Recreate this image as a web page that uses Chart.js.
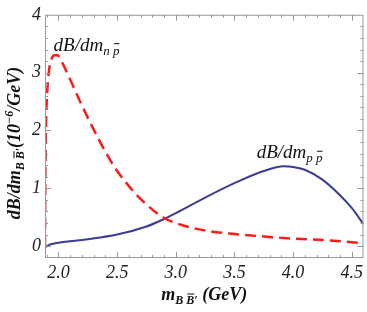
<!DOCTYPE html>
<html>
<head>
<meta charset="utf-8">
<script src="https://cdn.jsdelivr.net/npm/chart.js@4.4.1/dist/chart.umd.min.js"></script>
<style>
html,body{margin:0;padding:0;background:#fff;}
#wrap{width:367px;height:312px;position:relative;}
</style>
</head>
<body>
<div id="wrap"><canvas id="c" width="367" height="312"></canvas></div>
<script>
// ---- data ----
const npX = [1.885, 1.887, 1.890, 1.895, 1.905, 1.92, 1.94, 1.965, 1.99, 2.03, 2.10, 2.18, 2.26, 2.34, 2.42, 2.50, 2.58, 2.66, 2.75, 2.89, 3.00, 3.20, 3.50, 3.80, 4.00, 4.30, 4.60];
const npY = [0.00, 0.80, 1.60, 2.20, 2.70, 3.05, 3.23, 3.30, 3.30, 3.18, 2.88, 2.52, 2.18, 1.86, 1.56, 1.30, 1.09, 0.90, 0.72, 0.50, 0.40, 0.29, 0.21, 0.16, 0.13, 0.10, 0.05];
const ppX = [1.885, 1.93, 2.00, 2.25, 2.50, 2.75, 2.89, 3.00, 3.25, 3.50, 3.75, 3.92, 4.00, 4.10, 4.25, 4.40, 4.50, 4.60];
const ppY = [-0.02, 0.03, 0.06, 0.12, 0.20, 0.34, 0.46, 0.57, 0.84, 1.09, 1.30, 1.38, 1.37, 1.32, 1.15, 0.88, 0.66, 0.38];
const xTicks = [2.0, 2.5, 3.0, 3.5, 4.0, 4.5];
const yTicks = [0, 1, 2, 3, 4];
const xRange = [1.885, 4.60];
const yRange = [-0.205, 4.0];
// annotation anchors (data coordinates)
const labelNP = {x: 1.958, y: 3.38};
const labelPP = {x: 3.69, y: 1.52};

const SERIF = 'Liberation Serif, Times New Roman, Times, serif';

function drawRich(ctx, parts, x, y, align) {
  let total = 0;
  parts.forEach(p => { ctx.font = p.font; p.w = ctx.measureText(p.t).width; total += p.w + (p.gap || 0); });
  let cx = align === 'center' ? x - total / 2 : x;
  parts.forEach(p => {
    ctx.font = p.font;
    ctx.fillText(p.t, cx, y + (p.dy || 0));
    if (p.bars) {
      p.bars.forEach(b => {
        const pre = ctx.measureText(p.t.slice(0, b[0])).width;
        const w = ctx.measureText(p.t.slice(b[0], b[1])).width;
        ctx.save();
        ctx.lineWidth = 1;
        ctx.strokeStyle = ctx.fillStyle;
        ctx.beginPath();
        ctx.moveTo(cx + pre + 1, y + (p.dy || 0) - b[2]);
        ctx.lineTo(cx + pre + w, y + (p.dy || 0) - b[2]);
        ctx.stroke();
        ctx.restore();
      });
    }
    cx += p.w + (p.gap || 0);
  });
}

const framePlugin = {
  id: 'frame',
  afterDatasetsDraw(chart) {
    const {ctx, chartArea: a, scales: {x, y}} = chart;
    ctx.save();
    ctx.strokeStyle = '#9a9a9a';
    ctx.lineWidth = 1;
    ctx.strokeRect(a.left + 0.5, a.top + 0.5, a.right - a.left - 1, a.bottom - a.top - 1);
    ctx.beginPath();
    for (let k = 19; k <= 46; k++) {
      const v = k / 10;
      const px = Math.round(x.getPixelForValue(v)) + 0.5;
      if (px < a.left + 1 || px > a.right - 1) continue;
      const len = k % 5 === 0 ? 6 : 3;
      ctx.moveTo(px, a.bottom); ctx.lineTo(px, a.bottom - len);
      ctx.moveTo(px, a.top); ctx.lineTo(px, a.top + len);
    }
    for (let k = -1; k <= 20; k++) {
      const v = k / 5;
      const py = Math.round(y.getPixelForValue(v)) + 0.5;
      if (py < a.top + 1 || py > a.bottom - 1) continue;
      const len = k % 5 === 0 ? 6 : 3;
      ctx.moveTo(a.left, py); ctx.lineTo(a.left + len, py);
      ctx.moveTo(a.right, py); ctx.lineTo(a.right - len, py);
    }
    ctx.stroke();
    ctx.restore();
  },
  afterDraw(chart) {
    const {ctx, chartArea: a, scales: {x, y}} = chart;
    ctx.save();
    ctx.fillStyle = '#111';
    ctx.textBaseline = 'alphabetic';
    const big = 'italic 19px ' + SERIF, small = 'italic 13px ' + SERIF;
    drawRich(ctx, [
      {t: 'dB/dm', font: big},
      {t: 'n p', font: small, dy: 4, bars: [[2, 3, 11]]}
    ], x.getPixelForValue(labelNP.x), y.getPixelForValue(labelNP.y), 'left');
    drawRich(ctx, [
      {t: 'dB/dm', font: big},
      {t: 'p p', font: small, dy: 4, bars: [[2, 3, 11]]}
    ], x.getPixelForValue(labelPP.x), y.getPixelForValue(labelPP.y), 'left');
    const tb = 'bold italic 18px ' + SERIF, ts = 'bold italic 12px ' + SERIF;
    drawRich(ctx, [
      {t: 'm', font: tb},
      {t: 'B B\u2032', font: ts, dy: 4, bars: [[2, 3, 10]]},
      {t: ' (GeV)', font: tb}
    ], (a.left + a.right) / 2, 300, 'center');
    ctx.translate(20, 143);
    ctx.rotate(-Math.PI / 2);
    drawRich(ctx, [
      {t: 'dB/dm', font: tb},
      {t: 'B B\u2032', font: ts, dy: 4, bars: [[2, 3, 10]]},
      {t: '(10', font: tb},
      {t: '\u22126', font: ts, dy: -7},
      {t: '/GeV)', font: tb}
    ], 0, 0, 'center');
    ctx.restore();
  }
};

const tickFont = {family: SERIF, size: 18, style: 'italic'};

new Chart(document.getElementById('c'), {
  type: 'line',
  data: {
    datasets: [
      {
        label: 'dB/dm_{n pbar}',
        data: npX.map((v, i) => ({x: v, y: npY[i]})),
        borderColor: '#ff1a1a',
        borderWidth: 2.5,
        borderDash: [11, 6],
        pointRadius: 0,
        cubicInterpolationMode: 'monotone',
        fill: false
      },
      {
        label: 'dB/dm_{p pbar}',
        data: ppX.map((v, i) => ({x: v, y: ppY[i]})),
        borderColor: '#3b3b98',
        borderWidth: 2,
        pointRadius: 0,
        cubicInterpolationMode: 'monotone',
        fill: false
      }
    ]
  },
  options: {
    responsive: false,
    animation: false,
    devicePixelRatio: 1,
    layout: {padding: {top: 12, right: 1, left: 0, bottom: 0}},
    plugins: {legend: {display: false}, tooltip: {enabled: false}},
    scales: {
      x: {
        type: 'linear',
        min: xRange[0], max: xRange[1],
        afterBuildTicks: s => { s.ticks = xTicks.map(v => ({value: v})); },
        afterFit: s => { s.height = 54; },
        grid: {display: false, drawTicks: false},
        border: {display: false},
        ticks: {font: tickFont, color: '#222', padding: 4, maxRotation: 0, autoSkip: false,
                callback: v => Number(v).toFixed(1)}
      },
      y: {
        type: 'linear',
        min: yRange[0], max: yRange[1],
        afterBuildTicks: s => { s.ticks = yTicks.map(v => ({value: v})); },
        afterFit: s => { s.width = 45; },
        grid: {display: false, drawTicks: false},
        border: {display: false},
        ticks: {font: tickFont, color: '#222', padding: 4, autoSkip: false,
                callback: v => String(v)}
      }
    }
  },
  plugins: [framePlugin]
});
</script>
</body>
</html>
